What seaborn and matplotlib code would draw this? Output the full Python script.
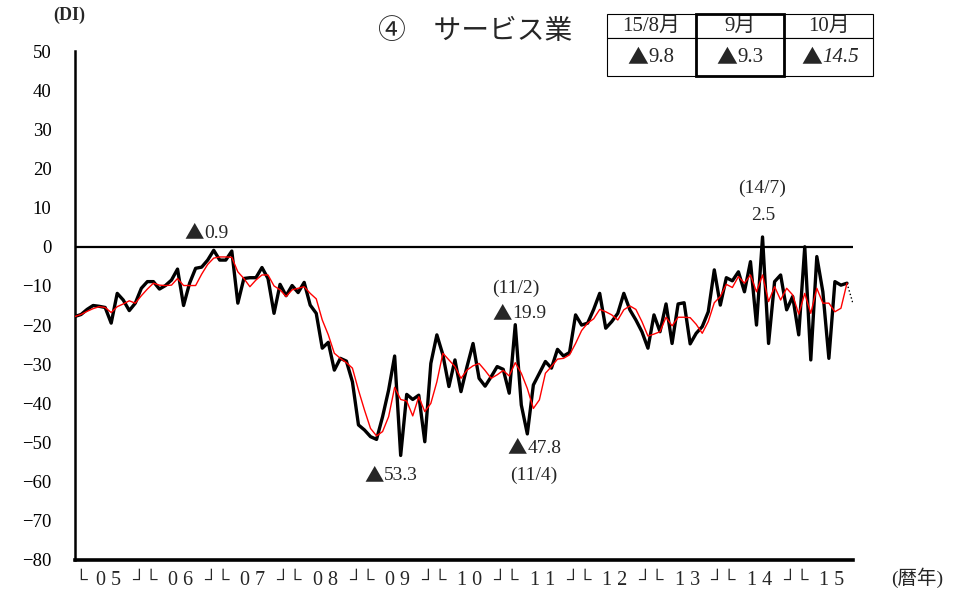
import numpy as np
import pandas as pd
import matplotlib
matplotlib.use('Agg')
import matplotlib.pyplot as plt
import seaborn as sns
from matplotlib.patches import Rectangle

# 業況判断DI（サービス業）、2005/1 - 2015/10（最後の月は見通し）
years = ['0 5', '0 6', '0 7', '0 8', '0 9', '1 0', '1 1', '1 2', '1 3', '1 4', '1 5']

di_service = [
    -17.8, -17.3, -16.0, -15.0, -15.2, -15.5, -19.5, -11.9, -13.6, -16.3, -14.4, -10.6,   # 05
    -8.9, -8.9, -10.8, -9.9, -8.5, -5.7, -15.0, -9.3, -5.5, -5.2, -3.4, -0.9,            # 06
    -3.4, -3.4, -1.1, -14.4, -8.1, -7.9, -7.9, -5.3, -8.1, -17.0, -9.6, -12.5,           # 07
    -9.9, -11.7, -9.1, -14.9, -17.0, -25.9, -24.4, -31.5, -28.5, -29.2, -34.5, -45.5,    # 08
    -46.8, -48.5, -49.2, -43.4, -36.6, -27.9, -53.3, -37.7, -39.0, -37.9, -49.8, -29.8,  # 09
    -22.5, -27.6, -35.7, -28.9, -37.0, -30.6, -24.7, -33.6, -35.6, -33.2, -30.6, -31.3,  # 10
    -37.4, -19.9, -40.4, -47.8, -35.3, -32.3, -29.3, -31.0, -26.2, -27.9, -27.0, -17.4,  # 11
    -20.0, -19.5, -16.0, -11.9, -20.8, -19.1, -17.0, -11.9, -16.1, -18.7, -21.7, -25.9,  # 12
    -17.4, -21.7, -14.6, -24.7, -14.6, -14.3, -24.8, -22.1, -20.4, -16.6, -5.9, -14.9,   # 13
    -7.9, -8.7, -6.4, -11.5, -3.8, -20.0, 2.5, -24.7, -8.9, -7.2, -16.1, -12.7,          # 14
    -22.5, 0.0, -28.9, -2.5, -11.5, -28.5, -8.9, -9.8, -9.3, -14.5,                      # 15
]

# 赤線（季節調整値）2005/1 - 2015/9
di_trend = [
    -17.8, -17.3, -16.5, -15.8, -15.3, -15.5, -16.8, -15.3, -14.6, -13.8, -14.4, -12.5,
    -10.8, -9.3, -9.8, -9.9, -9.8, -8.1, -9.9, -9.9, -9.9, -7.0, -4.5, -2.9,
    -2.6, -2.6, -2.7, -6.4, -8.1, -10.2, -8.5, -7.2, -7.2, -10.0, -11.0, -12.7,
    -11.0, -10.6, -10.2, -11.9, -13.3, -18.7, -22.5, -27.2, -28.5, -29.6, -31.0, -36.6,
    -41.7, -46.4, -48.3, -47.2, -43.4, -35.9, -39.0, -39.4, -43.2, -38.3, -42.1, -40.0,
    -34.5, -27.2, -28.9, -30.6, -33.6, -31.5, -30.4, -29.8, -31.6, -33.6, -32.7, -31.6,
    -33.0, -29.6, -32.3, -36.2, -41.3, -39.1, -32.3, -30.6, -28.7, -28.5, -27.6, -24.7,
    -21.4, -19.5, -18.4, -16.0, -16.6, -17.4, -18.7, -16.1, -15.1, -16.0, -19.1, -22.8,
    -22.3, -21.7, -18.0, -20.2, -18.0, -18.0, -18.1, -19.8, -22.1, -19.1, -14.3, -12.7,
    -9.6, -10.4, -7.6, -9.3, -7.2, -11.5, -7.2, -14.0, -10.2, -13.6, -10.6, -12.3,
    -17.2, -11.9, -17.0, -10.6, -14.4, -14.4, -16.6, -15.7, -9.3,
]

table_head = ['15/8月', '9月', '10月']
table_vals = ['9.8', '9.3', '14.5']

sns.set_theme(style='white')
plt.rcParams['font.family'] = ['Liberation Serif', 'Noto Sans CJK JP']
plt.rcParams['axes.unicode_minus'] = True
CJK = ['Noto Sans CJK JP']


def minus_label(ax, x, y, num, transform=None, size=14, style='normal'):
    # ▲ は CJK フォントで大きめに、数字は明朝風のセリフ体で
    tr = transform if transform is not None else ax.transData
    ax.text(x, y, '▲', transform=tr, ha='right', va='center', fontsize=size,
            family=CJK)
    ax.text(x, y, num, transform=tr, ha='left', va='center', fontsize=size,
            fontstyle=style)


n = len(di_service)
df = pd.DataFrame({'m': np.arange(n), 'di': di_service})
df_tr = pd.DataFrame({'m': np.arange(len(di_trend)), 'di': di_trend})
df_act = df.iloc[:n - 1]
df_fc = df.iloc[n - 2:]

fig = plt.figure(figsize=(9.71, 5.98), dpi=100)
ax = fig.add_axes([75 / 971, 38 / 598, 778 / 971, 509 / 598])

ax.axhline(0, color='black', lw=1.6, zorder=1)
sns.lineplot(data=df_act, x='m', y='di', color='black', lw=2.4, ax=ax, zorder=3)
sns.lineplot(data=df_fc, x='m', y='di', color='black', lw=1.0, ls=':', ax=ax, zorder=3)
sns.lineplot(data=df_tr, x='m', y='di', color='red', lw=1.0, ax=ax, zorder=4)

ax.set_xlim(0, n - 1)
ax.set_ylim(-80, 50)
ax.set_yticks(np.arange(-80, 51, 10))
ax.set_xticks(np.arange(n))
ax.set_xticklabels([])
ax.set_xlabel('')
ax.set_ylabel('')
ax.tick_params(axis='y', direction='in', length=5, width=1.6, pad=17,
               labelsize=13.5, colors='black')
ax.tick_params(axis='x', direction='in', length=4, width=1.0, colors='black')
for s in ['top', 'right']:
    ax.spines[s].set_visible(False)
ax.spines['left'].set_linewidth(1.8)
ax.spines['bottom'].set_linewidth(2.6)
ax.spines['left'].set_color('black')
ax.spines['bottom'].set_color('black')

# 年ラベル
xt = ax.get_xaxis_transform()
ly = -0.04
ax.text(-0.2, ly, '└', transform=xt, ha='left', va='center', fontsize=13)
for k, y in enumerate(years):
    ax.text(12 * k + 5.5, ly, y, transform=xt, ha='center', va='center', fontsize=14.5)
    if k > 0:
        ax.text(12 * k - 0.5, ly, '┘└', transform=xt, ha='center', va='center', fontsize=13)
ax.text(1.083, -0.035, '(暦年)', transform=ax.transAxes, ha='center', va='center',
        fontsize=14)

ax.text(-0.028, 1.07, '(DI)', transform=ax.transAxes, ha='left', va='center',
        fontsize=13, fontweight='bold')
ax.text(0.514, 1.037, '④　サービス業', transform=ax.transAxes, ha='center', va='center',
        fontsize=20)

# 注記
minus_label(ax, 21.4, 3.5, '0.9')
ax.text(73.1, -10.5, '(11/2)', ha='center', va='center', fontsize=14)
minus_label(ax, 72.5, -17.1, '19.9')
minus_label(ax, 75.0, -51.4, '47.8')
ax.text(76.1, -58.3, '(11/4)', ha='center', va='center', fontsize=14)
minus_label(ax, 51.2, -58.5, '53.3')
ax.text(113.9, 15.0, '(14/7)', ha='center', va='center', fontsize=14)
ax.text(114.1, 7.9, '2.5', ha='center', va='center', fontsize=14)

# 右上の表
bx, by, bw, bh = 0.6838, 0.9509, 0.3419, 0.1218
tbl = ax.table(cellText=[table_head, ['', '', '']], cellLoc='center',
               bbox=[bx, by, bw, bh])
tbl.auto_set_font_size(False)
tbl.set_fontsize(15)
for (r, c), cell in tbl.get_celld().items():
    cell.set_linewidth(0.8)
    cell.set_edgecolor('black')
    cell.set_height(24 if r == 0 else 38)
ax.add_patch(Rectangle((bx + bw / 3, by), bw / 3, bh, transform=ax.transAxes,
                       fill=False, lw=2.0, ec='black', clip_on=False, zorder=5))
val_x = [0.7372, 0.8509, 0.9602]
for i, (vx, v) in enumerate(zip(val_x, table_vals)):
    minus_label(ax, vx, 0.988, v, transform=ax.transAxes, size=15,
                style='italic' if i == 2 else 'normal')

fig.savefig('out.png', dpi=100)
